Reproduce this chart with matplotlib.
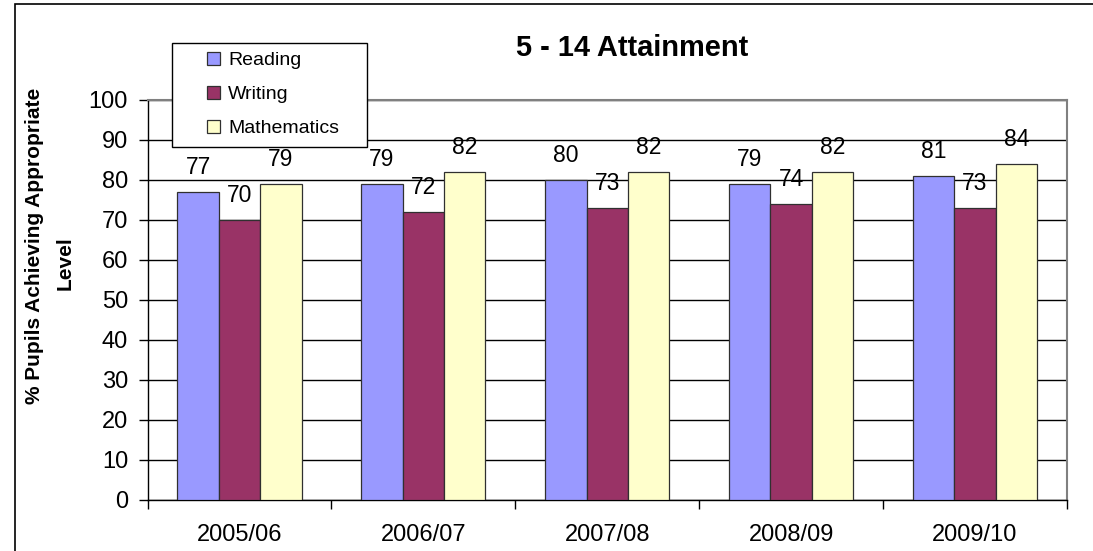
import matplotlib
matplotlib.use("Agg")
import matplotlib.pyplot as plt
import numpy as np
from matplotlib.patches import Rectangle

plt.rcParams['font.family'] = ['Liberation Sans', 'DejaVu Sans']

# Attainment data
years = ["2005/06", "2006/07", "2007/08", "2008/09", "2009/10"]
reading = [77, 79, 80, 79, 81]
writing = [70, 72, 73, 74, 73]
mathematics = [79, 82, 82, 82, 84]
series_names = ["Reading", "Writing", "Mathematics"]
series_colors = ["#9999FF", "#993366", "#FFFFCC"]
y_ticks = [0, 10, 20, 30, 40, 50, 60, 70, 80, 90, 100]

W, H = 1093, 551
fig = plt.figure(figsize=(W / 100, H / 100), dpi=100)
ax = fig.add_axes([147.5 / W, 1 - 500 / H, (1067 - 147.5) / W, 400 / H])

# Outer chart frame
fig.patches.append(Rectangle((15 / W, -0.1), 1.2, 1 - 4 / H + 0.1,
                             transform=fig.transFigure, fill=False,
                             edgecolor="black", linewidth=1.2, zorder=0))

x = np.arange(len(years))
bw = 0.225
data = [reading, writing, mathematics]
for i, (vals, name, col) in enumerate(zip(data, series_names, series_colors)):
    pos = x + (i - 1) * bw
    ax.bar(pos, vals, width=bw, color=col, edgecolor="#303030",
           linewidth=0.9, label=name, zorder=3)
    for xb, v in zip(pos, vals):
        ax.annotate(f"{v:.0f}", (xb, v), xytext=(0, 9.5), textcoords="offset points",
                    ha="center", va="bottom", fontsize=16.5, zorder=4)

ax.set_xlim(-0.5, len(years) - 0.5)
ax.set_ylim(0, 100)
ax.set_yticks(y_ticks)
ax.set_yticklabels([str(t) for t in y_ticks], fontsize=17)
ax.yaxis.grid(True, color="black", linewidth=1.0, zorder=0)
ax.set_axisbelow(True)

ax.set_xticks(x)
ax.set_xticklabels(years, fontsize=17)
ax.set_xticks(np.arange(-0.5, len(years)), minor=True)
ax.tick_params(axis="x", which="major", length=0, pad=17.5)
ax.tick_params(axis="x", which="minor", length=6.5, width=1, direction="out")
ax.tick_params(axis="y", length=6.5, width=1, direction="out", pad=7.5)

for side in ["top", "right"]:
    ax.spines[side].set_color("#808080")
    ax.spines[side].set_linewidth(1.5)
for side in ["left", "bottom"]:
    ax.spines[side].set_color("black")
    ax.spines[side].set_linewidth(1.0)

# Y-axis title, two lines
fig.text(35 / W, 1 - 246 / H, "% Pupils Achieving Appropriate", rotation=90,
         ha="center", va="center", fontsize=15, fontweight="bold")
fig.text(65.5 / W, 1 - 263.5 / H, "Level", rotation=90,
         ha="center", va="center", fontsize=15, fontweight="bold")

fig.text(632.5 / W, 1 - 48.5 / H, "5 - 14 Attainment", ha="center", va="center",
         fontsize=20.9, fontweight="bold")

# Legend box with entries placed inside
legend_box = Rectangle((171.5 / W, 1 - 146.5 / H), (366.5 - 171.5) / W, 104 / H,
                       transform=fig.transFigure, facecolor="white",
                       edgecolor="black", linewidth=1.0, zorder=9, clip_on=False)
ax.add_artist(legend_box)
leg = ax.legend(loc="upper left", bbox_to_anchor=(207 / W, 1 - 52 / H),
                bbox_transform=fig.transFigure, fontsize=14, frameon=False,
                handlelength=0.65, handleheight=0.65, handletextpad=0.45,
                labelspacing=0.85, borderpad=0, borderaxespad=0)
leg.set_zorder(10)

fig.savefig("out.png", dpi=100)
